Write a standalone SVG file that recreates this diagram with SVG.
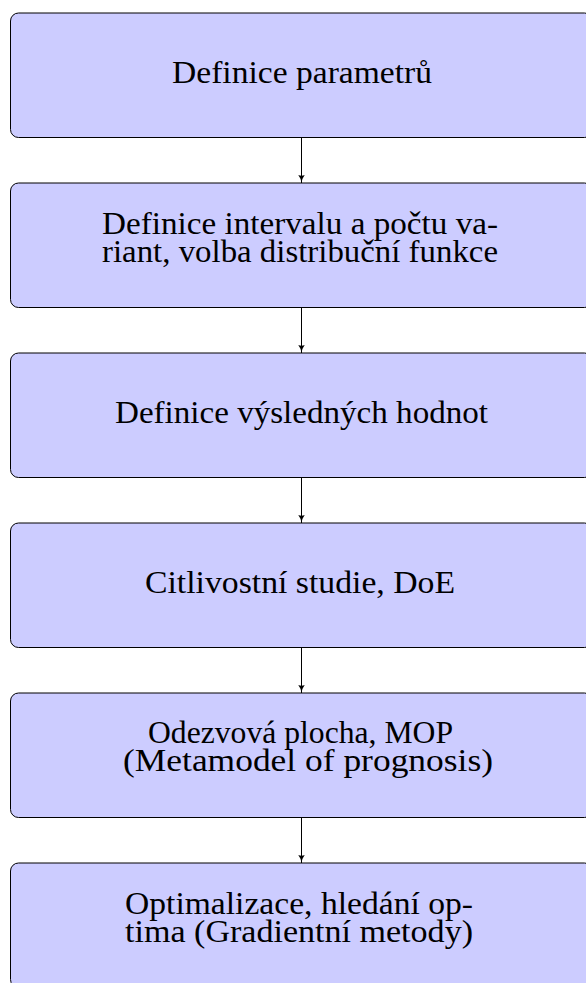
<svg xmlns="http://www.w3.org/2000/svg" width="586" height="983" viewBox="0 0 586 983">
<style>
.box{fill:#ccccff;stroke:#000;stroke-width:1}
.t{font-family:"Liberation Serif","DejaVu Serif",serif;font-size:32px;fill:#000;text-anchor:middle}
.c{stroke:#000;stroke-width:1;fill:none;marker-end:url(#arr)}
</style>
<defs>
<marker id="arr" viewBox="0 0 8 8" refX="8" refY="4" markerWidth="8" markerHeight="8" markerUnits="userSpaceOnUse" orient="auto">
<path d="M0,0.8 Q3,3.2 8,4 Q3,4.8 0,7.2 Q1.6,4 0,0.8 Z" fill="#000"/>
</marker>
</defs>
<g id="n1"><rect class="box" x="10.5" y="13" width="582" height="124.5" rx="8"/>
<text class="t" x="302" y="83" textLength="260" lengthAdjust="spacingAndGlyphs">Definice parametrů</text></g>
<g id="n2"><rect class="box" x="10.5" y="183" width="582" height="124.5" rx="8"/>
<text class="t" x="300" y="234" textLength="396" lengthAdjust="spacingAndGlyphs">Definice intervalu a počtu va-</text>
<text class="t" x="300" y="262" textLength="396" lengthAdjust="spacingAndGlyphs">riant, volba distribuční funkce</text></g>
<g id="n3"><rect class="box" x="10.5" y="353" width="582" height="124.5" rx="8"/>
<text class="t" x="301.5" y="423" textLength="373" lengthAdjust="spacingAndGlyphs">Definice výsledných hodnot</text></g>
<g id="n4"><rect class="box" x="10.5" y="523" width="582" height="124.5" rx="8"/>
<text class="t" x="300" y="593" textLength="310" lengthAdjust="spacingAndGlyphs">Citlivostní studie, DoE</text></g>
<g id="n5"><rect class="box" x="10.5" y="693" width="582" height="124.5" rx="8"/>
<text class="t" x="300.5" y="743" textLength="305" lengthAdjust="spacingAndGlyphs">Odezvová plocha, MOP</text>
<text class="t" x="308" y="771" textLength="370" lengthAdjust="spacingAndGlyphs">(Metamodel of prognosis)</text></g>
<g id="n6"><rect class="box" x="10.5" y="863" width="582" height="124.5" rx="8"/>
<text class="t" x="299" y="914" textLength="348" lengthAdjust="spacingAndGlyphs">Optimalizace, hledání op-</text>
<text class="t" x="299" y="942" textLength="348" lengthAdjust="spacingAndGlyphs">tima (Gradientní metody)</text></g>
<g id="connectors">
<path class="c" d="M301.5,137.5 V183"/>
<path class="c" d="M301.5,307.5 V353"/>
<path class="c" d="M301.5,477.5 V523"/>
<path class="c" d="M301.5,647.5 V693"/>
<path class="c" d="M301.5,817.5 V863"/>
</g>
</svg>
